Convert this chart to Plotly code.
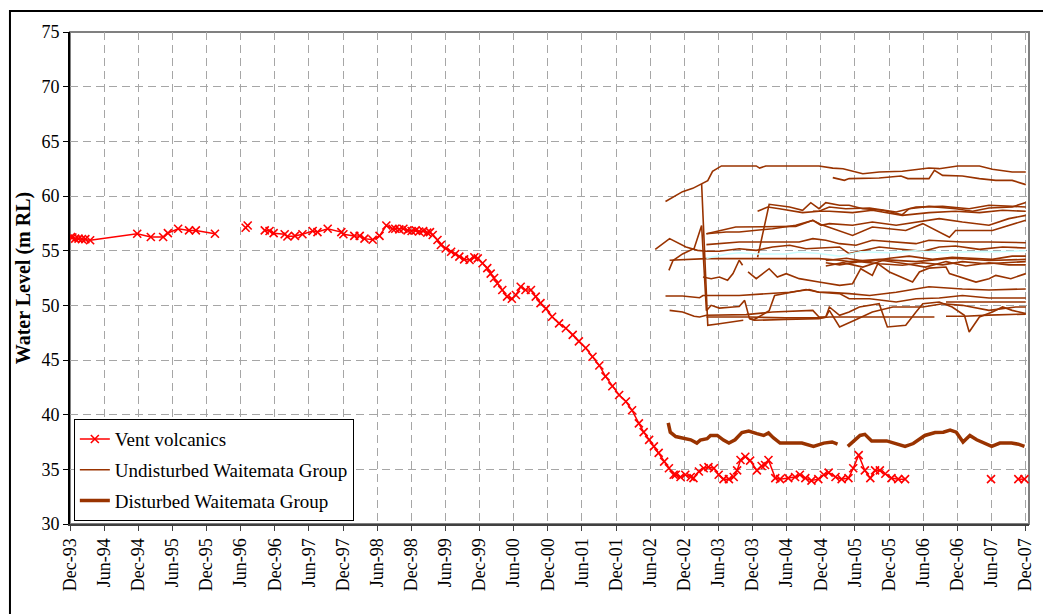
from datetime import datetime, timedelta

import plotly.graph_objects as go


# dates are decimal years
vent_year = [
    1993.93, 1993.95, 1993.99, 1994.04, 1994.09, 1994.14, 1994.21,
    1994.90, 1995.10, 1995.28, 1995.35, 1995.50, 1995.66, 1995.76, 1996.04,
    None, 1996.49, 1996.52, None,
    1996.77, 1996.84, 1996.90, 1997.06, 1997.10, 1997.21, 1997.32, 1997.47, 1997.54, 1997.69,
    1997.89, 1997.92, 1998.08, 1998.16, 1998.23, 1998.35, 1998.45, 1998.55, 1998.64,
    1998.68, 1998.74, 1998.80, 1998.86, 1998.92, 1998.98, 1999.03, 1999.09, 1999.15, 1999.19,
    1999.23, 1999.30, 1999.35, 1999.42, 1999.50, 1999.56, 1999.62, 1999.69, 1999.77, 1999.84,
    1999.89, 1999.96, 2000.03, 2000.08, 2000.13, 2000.18, 2000.25, 2000.32, 2000.39, 2000.45,
    2000.52, 2000.59, 2000.67, 2000.74, 2000.81, 2000.89,
    2000.98, 2001.08, 2001.18, 2001.28, 2001.37, 2001.47, 2001.57, 2001.67, 2001.76, 2001.86,
    2001.96, 2002.06, 2002.15, 2002.25, 2002.32, 2002.40, 2002.47, 2002.54, 2002.62, 2002.69, 2002.76,
    2002.79, 2002.86, 2002.93, 2003.01, 2003.05, 2003.13, 2003.20, 2003.27, 2003.35, 2003.42,
    2003.49, 2003.57, 2003.64, 2003.69, 2003.74, 2003.81, 2003.88, 2003.98, 2004.05, 2004.10,
    2004.15, 2004.25, 2004.32, 2004.44, 2004.54, 2004.61, 2004.69, 2004.78, 2004.88, 2004.96,
    2005.03, 2005.13, 2005.22, 2005.32, 2005.39, 2005.47, 2005.56, 2005.64, 2005.71, 2005.78,
    2005.86, 2005.95, 2006.05, 2006.15,
    None, 2007.41, None, 2007.81, 2007.90,
]
vent_level = [
    56.25, 56.2, 56.1, 56.1, 56.05, 56.05, 55.95,
    56.55, 56.25, 56.25, 56.6, 57.0, 56.85, 56.85, 56.55,
    None, 57.1, 57.3, None,
    56.85, 56.8, 56.6, 56.5, 56.3, 56.35, 56.5, 56.8, 56.7, 57.0,
    56.7, 56.5, 56.35, 56.35, 56.1, 56.0, 56.35, 57.3, 57.0,
    57.0, 56.95, 57.0, 56.85, 56.8, 56.85, 56.75, 56.8, 56.65, 56.7,
    56.43, 55.98, 55.52, 55.2, 54.9, 54.7, 54.45, 54.2, 54.15, 54.4,
    54.3, 53.85, 53.4, 52.9, 52.5, 52.0, 51.4, 50.8, 50.6, 50.95,
    51.7, 51.4, 51.4, 50.8, 50.2, 49.7,
    48.96, 48.35, 47.9, 47.3, 46.7, 46.1, 45.3, 44.5, 43.5, 42.6,
    41.8, 41.2, 40.4, 39.2, 38.4, 37.7, 37.1, 36.5, 35.7, 35.1, 34.5,
    34.5, 34.3, 34.5, 34.3, 34.2, 34.8, 35.1, 35.2, 35.1, 34.5,
    34.1, 34.1, 34.3, 34.9, 35.85, 36.15, 35.8, 34.9, 35.3, 35.4,
    35.85, 34.2, 34.1, 34.2, 34.3, 34.5, 34.2, 33.97, 34.1, 34.5,
    34.7, 34.3, 34.1, 34.2, 35.1, 36.3, 34.9, 34.2, 34.9, 34.9,
    34.6, 34.2, 34.1, 34.1,
    None, 34.1, None, 34.1, 34.1,
]

disturbed_year = [
    2002.68, 2002.71, 2002.79, 2002.88, 2003.01, 2003.10, 2003.15, 2003.25, 2003.30, 2003.40,
    2003.49, 2003.57, 2003.66, 2003.76, 2003.86, 2003.98, 2004.08, 2004.15, 2004.22, 2004.32,
    2004.64, 2004.81, 2004.96, 2005.08, 2005.16, None,
    2005.31, 2005.39, 2005.49, 2005.56, 2005.66, 2005.88, 2006.03, 2006.15, 2006.27, 2006.44,
    2006.59, 2006.71, 2006.81, 2006.90, 2007.00, 2007.10, 2007.20, 2007.32, 2007.42, 2007.54,
    2007.71, 2007.81, 2007.90,
]
disturbed_level = [
    39.24, 38.4, 38.0, 37.9, 37.7, 37.4, 37.67, 37.8, 38.1, 38.1,
    37.67, 37.4, 37.7, 38.36, 38.5, 38.27, 38.1, 38.33, 37.9, 37.4,
    37.4, 37.1, 37.4, 37.5, 37.3, None,
    37.1, 37.5, 38.1, 38.2, 37.6, 37.6, 37.3, 37.1, 37.36, 38.1,
    38.36, 38.4, 38.58, 38.4, 37.5, 38.1, 37.7, 37.4, 37.1, 37.4,
    37.4, 37.3, 37.1,
]

# one entry per undisturbed Waitemata bore
undisturbed_years = [
    [2002.64, 2002.75, 2002.89, 2003.04, 2003.17, 2003.26, 2003.33, 2003.46, 2003.97, 2004.02,
     2004.11, 2004.89, 2005.09, 2005.24, 2005.53, 2005.77, 2006.11, 2006.50, 2006.65, 2006.92,
     2007.24, 2007.43, 2007.72, 2007.92],
    [2005.09, 2005.26, 2005.33, 2005.53, 2005.77, 2006.09, 2006.19, 2006.50, 2006.58, 2006.70,
     2006.99, 2007.24, 2007.48, 2007.72, 2007.92],
    [2003.17, 2003.26, 2003.43, 2003.63, 2003.78],
    [2002.69, 2002.75, 2002.89, 2003.06, 2003.17, 2003.24, 2003.31, 2003.43, 2003.63, 2003.72,
     2003.80, 2003.87, 2003.94, 2004.06, 2004.16, 2004.24, 2004.40, 2004.55, 2004.70, 2004.89,
     2005.04, 2005.33, 2005.63, 2006.02, 2006.50, 2006.99, 2007.38, 2007.92],
    [2002.64, 2002.89, 2003.14, 2003.19, 2003.72, 2004.11, 2004.46, 2004.75, 2004.89, 2005.19,
     2005.33, 2005.63, 2006.02, 2006.31, 2006.65, 2006.99, 2007.38, 2007.92],
    [2002.70, 2002.89, 2003.06, 2003.14, 2003.24, 2003.82, 2004.21, 2004.80, 2004.89, 2004.99,
     2005.04, 2005.19, 2005.41, 2005.67, 2005.97, 2006.41, 2006.70, 2006.99, 2007.38, 2007.77,
     2007.92],
    [2003.87, 2003.94, 2004.40, 2004.89, 2004.99, 2005.04, 2005.19, 2005.33, 2005.48, 2005.77,
     2005.89, 2006.16, 2006.31, 2006.41, 2006.65, 2006.84, 2007.02, 2007.09, 2007.24, 2007.43,
     2007.58, 2007.72, 2007.92],
    [2003.24, 2003.87, 2004.40, 2004.89, 2005.04, 2005.60, 2006.20, 2006.58],
    [2006.75, 2007.09, 2007.48, 2007.92],
    [2006.75, 2007.02, 2007.38, 2007.72, 2007.92],
    [2002.49, 2002.70, 2002.94, 2003.11, 2003.24, 2003.43, 2003.72, 2003.97, 2004.21, 2004.46,
     2004.70, 2005.19, 2005.33, 2005.77, 2006.02, 2006.41, 2006.65, 2006.89, 2007.24, 2007.58,
     2007.92],
    [2002.70, 2003.24, 2003.90, 2004.40, 2004.89, 2005.19, 2005.33, 2005.77, 2006.31, 2006.84,
     2007.38, 2007.92],
    [2003.24, 2003.53, 2003.72, 2003.82, 2004.21, 2004.55, 2004.80, 2004.92, 2005.04, 2005.38,
     2005.67, 2006.02, 2006.31, 2006.65, 2006.99, 2007.38, 2007.67, 2007.92],
    [2003.24, 2003.67, 2004.55, 2004.80, 2004.92, 2005.38, 2005.67, 2006.16, 2006.41, 2006.80,
     2006.89, 2007.43, 2007.92],
    [2003.99, 2004.16, 2004.46, 2004.65, 2004.77, 2004.89, 2004.99, 2005.19, 2005.33, 2005.53,
     2005.82, 2006.11, 2006.21, 2006.50, 2006.89, 2007.14, 2007.38, 2007.72, 2007.92],
    [2003.99, 2004.14, 2004.31, 2004.65, 2004.89, 2005.04, 2005.28, 2005.63, 2006.02, 2006.31,
     2006.70, 2007.09, 2007.38, 2007.92],
    [2004.80, 2005.04, 2005.38, 2005.67, 2006.11, 2006.50, 2006.89, 2007.24, 2007.58, 2007.92],
    [2003.24, 2003.72, 2004.40, 2004.60, 2004.80, 2004.99, 2005.19, 2005.43, 2005.67, 2006.02,
     2006.31, 2006.50, 2006.99, 2007.38, 2007.92],
    [2003.19, 2003.31, 2003.43, 2003.55, 2003.63, 2003.72, 2003.77],
    [2003.85, 2003.97, 2004.16, 2004.28, 2004.41, 2004.60, 2004.89, 2005.19, 2005.38, 2005.50,
     2005.67, 2005.75, 2005.92, 2006.11, 2006.26, 2006.36, 2006.50, 2006.75, 2006.80, 2007.19,
     2007.38, 2007.48, 2007.70, 2007.92],
    [2004.99, 2005.19, 2005.48, 2005.77, 2006.11, 2006.41, 2006.70, 2006.99, 2007.33, 2007.62, 2007.92],
    [2004.99, 2005.24, 2005.53, 2005.82, 2006.16, 2006.45, 2006.75, 2007.04, 2007.38, 2007.67, 2007.92],
    [2004.99, 2005.29, 2005.60, 2005.92, 2006.21, 2006.55, 2006.84, 2007.14, 2007.43, 2007.72, 2007.92],
]
undisturbed_levels = [
    [59.5, 59.9, 60.4, 60.7, 61.1, 61.4, 62.25, 62.75, 62.75, 62.55,
     62.75, 62.75, 62.55, 62.5, 62.04, 62.2, 62.26, 62.56, 62.5, 62.74,
     62.74, 62.44, 62.2, 62.2],
    [61.68, 61.43, 61.59, 61.59, 61.65, 61.83, 61.59, 61.59, 62.35, 61.89,
     61.83, 61.59, 61.43, 61.43, 61.04],
    [61.1, 48.17, 48.32, 48.48, 48.63],
    [53.2, 54.1, 54.7, 55.2, 57.3, 49.5, 50.0, 49.75, 49.85, 49.9,
     50.45, 48.8, 48.7, 49.1, 49.5, 50.9, 51.1, 51.3, 51.45, 51.2,
     51.2, 51.07, 50.9, 51.2, 51.7, 51.5, 51.4, 51.5],
    [50.85, 50.85, 50.7, 50.9, 50.9, 51.07, 51.2, 51.45, 51.2, 51.07,
     50.6, 50.6, 50.3, 50.6, 50.67, 50.9, 50.67, 50.67],
    [49.54, 49.39, 49.0, 48.93, 49.09, 49.15, 49.39, 49.54, 48.93, 48.93,
     49.54, 48.02, 48.63, 49.39, 49.85, 49.85, 50.15, 50.0, 49.54, 49.85,
     49.85],
    [48.78, 48.63, 48.7, 48.78, 48.93, 49.85, 49.09, 49.39, 49.85, 50.15,
     48.02, 48.17, 49.39, 50.15, 50.3, 49.85, 49.09, 47.56, 48.93, 49.39,
     49.85, 49.54, 49.24],
    [48.93, 48.93, 48.85, 48.85, 48.93, 48.93, 48.93, 48.93],
    [50.3, 50.3, 50.35, 50.3],
    [49.0, 49.0, 49.1, 49.15, 49.2],
    [55.12, 56.1, 55.34, 55.03, 54.94, 54.94, 55.18, 55.03, 55.34, 55.49,
     55.18, 55.34, 54.73, 55.34, 55.18, 54.94, 55.34, 55.43, 55.12, 55.34,
     55.24],
    [54.12, 54.27, 54.27, 54.27, 54.27, 54.12, 54.0, 54.2, 54.0, 54.3,
     54.1, 54.2],
    [56.55, 56.71, 56.71, 56.77, 57.01, 57.32, 57.77, 57.32, 57.47, 57.32,
     57.62, 57.32, 57.62, 57.93, 57.62, 57.32, 57.93, 58.23],
    [56.54, 57.16, 57.22, 57.78, 57.4, 56.39, 57.16, 56.85, 57.47, 56.23,
     56.85, 56.85, 57.78],
    [54.4, 59.24, 58.99, 58.69, 59.39, 58.84, 59.39, 59.15, 59.15, 58.84,
     58.69, 58.29, 58.84, 59.05, 58.84, 58.6, 58.9, 59.0, 59.4],
    [58.6, 58.99, 58.84, 58.48, 58.6, 58.99, 58.84, 58.9, 58.54, 58.99,
     59.05, 58.84, 59.15, 58.99],
    [58.6, 58.6, 58.48, 58.69, 58.23, 58.48, 58.6, 58.48, 58.69, 58.6],
    [55.55, 55.79, 55.79, 55.79, 56.1, 55.95, 55.64, 55.49, 55.95, 55.79,
     55.64, 55.95, 55.79, 55.79, 55.73],
    [52.59, 52.44, 52.59, 52.29, 52.9, 54.12, 53.66],
    [53.05, 52.44, 53.35, 52.59, 52.9, 52.44, 52.13, 51.83, 51.98, 53.35,
     52.74, 53.81, 53.05, 52.5, 52.13, 53.05, 53.4, 53.5, 52.9, 52.13,
     52.44, 52.74, 52.44, 52.9],
    [53.9, 53.7, 54.0, 53.8, 53.66, 53.9, 53.7, 54.0, 53.8, 53.9, 54.0],
    [53.6, 53.9, 53.5, 54.1, 53.8, 53.5, 54.0, 53.6, 53.9, 53.7, 53.7],
    [54.1, 54.3, 54.0, 54.3, 54.5, 54.2, 54.4, 54.3, 54.2, 54.5, 54.5],
]

# faint cyan series that shows through behind the brown lines
cyan_year = [2003.24, 2003.55, 2003.72, 2004.00, 2004.41, 2004.60, 2004.89, 2005.19, 2005.50,
             2005.90, 2006.30, 2006.70, 2007.10, 2007.50, 2007.92]
cyan_level = [54.3, 54.7, 54.8, 54.7, 54.7, 54.88, 54.73, 54.5, 54.9, 54.8, 55.0, 54.8, 54.9, 54.9, 55.0]


def ToDate(y):
    if y is None:
        return None
    start = datetime(int(y), 1, 1)
    return start + timedelta(days=(y - int(y)) * 365.25)


def ToDates(years):
    return [ToDate(y) for y in years]


BROWN = '#993300'
FONT = '"Liberation Serif", "Times New Roman", serif'

fig = go.Figure()

# Vent volcanics
fig.add_trace(go.Scatter(
    x=ToDates(vent_year),
    y=vent_level,
    mode='lines+markers',
    name='Vent volcanics',
    legendgroup='vent',
    line=dict(color='#FF0000', width=1.5),
    marker=dict(symbol='x-thin', size=8, line=dict(width=1.6, color='#FF0000')),
))

# Undisturbed Waitemata Group (many bores, one legend entry)
for i, (yrs, lev) in enumerate(zip(undisturbed_years, undisturbed_levels)):
    fig.add_trace(go.Scatter(
        x=ToDates(yrs),
        y=lev,
        mode='lines',
        name='Undisturbed Waitemata Group',
        legendgroup='undisturbed',
        showlegend=(i == 0),
        line=dict(color=BROWN, width=1.6),
    ))

fig.add_trace(go.Scatter(
    x=ToDates(cyan_year),
    y=cyan_level,
    mode='lines',
    showlegend=False,
    hoverinfo='skip',
    line=dict(color='#CCFFFF', width=1.5),
))

# Disturbed Waitemata Group
fig.add_trace(go.Scatter(
    x=ToDates(disturbed_year),
    y=disturbed_level,
    mode='lines',
    name='Disturbed Waitemata Group',
    legendgroup='disturbed',
    line=dict(color=BROWN, width=3.5),
))

fig.update_xaxes(
    type='date',
    range=[datetime(1993, 12, 1), datetime(2007, 12, 20)],
    tick0='1993-12-01',
    dtick='M6',
    tickformat='%b-%y',
    tickangle=-90,
    ticks='outside',
    ticklen=5,
    tickcolor='#404040',
    tickfont=dict(family=FONT, size=18, color='#000000'),
    showline=True,
    linecolor='#404040',
    linewidth=2,
    showgrid=True,
    gridcolor='#A6A6A6',
    griddash='8px,5px',
    zeroline=False,
)

fig.update_yaxes(
    range=[30, 75],
    tick0=30,
    dtick=5,
    ticks='outside',
    ticklen=5,
    tickcolor='#000000',
    tickfont=dict(family=FONT, size=18, color='#000000'),
    showline=True,
    linecolor='#000000',
    linewidth=2,
    showgrid=True,
    gridcolor='#A6A6A6',
    griddash='8px,5px',
    zeroline=False,
    title=dict(text='<b>Water Level (m RL)</b>',
               font=dict(family=FONT, size=20, color='#000000'),
               standoff=5),
)

fig.update_layout(
    width=1043,
    height=614,
    margin=dict(l=70, r=14, t=32, b=90, autoexpand=False),
    paper_bgcolor='#FFFFFF',
    plot_bgcolor='#FFFFFF',
    font=dict(family=FONT, size=18, color='#000000'),
    showlegend=True,
    legend=dict(
        x=0.004, y=0.213, xanchor='left', yanchor='top',
        bgcolor='#FFFFFF', bordercolor='#000000', borderwidth=1,
        font=dict(family=FONT, size=19, color='#000000'),
        tracegroupgap=3,
        traceorder='grouped',
    ),
    shapes=[
        # plot area frame (top / right)
        dict(type='rect', xref='paper', yref='paper', x0=0, x1=1, y0=0, y1=1,
             line=dict(color='#808080', width=2), layer='below'),
        # outer chart frame
        dict(type='rect', xref='paper', yref='paper', x0=-0.0626, x1=1.05, y0=-0.25, y1=1.0427,
             line=dict(color='#000000', width=2)),
    ],
)

# page has a default body margin, drop it so the chart sits at the window origin
fig.write_html("out.html", config={'displayModeBar': False},
               post_script="document.body.style.margin='0';")
